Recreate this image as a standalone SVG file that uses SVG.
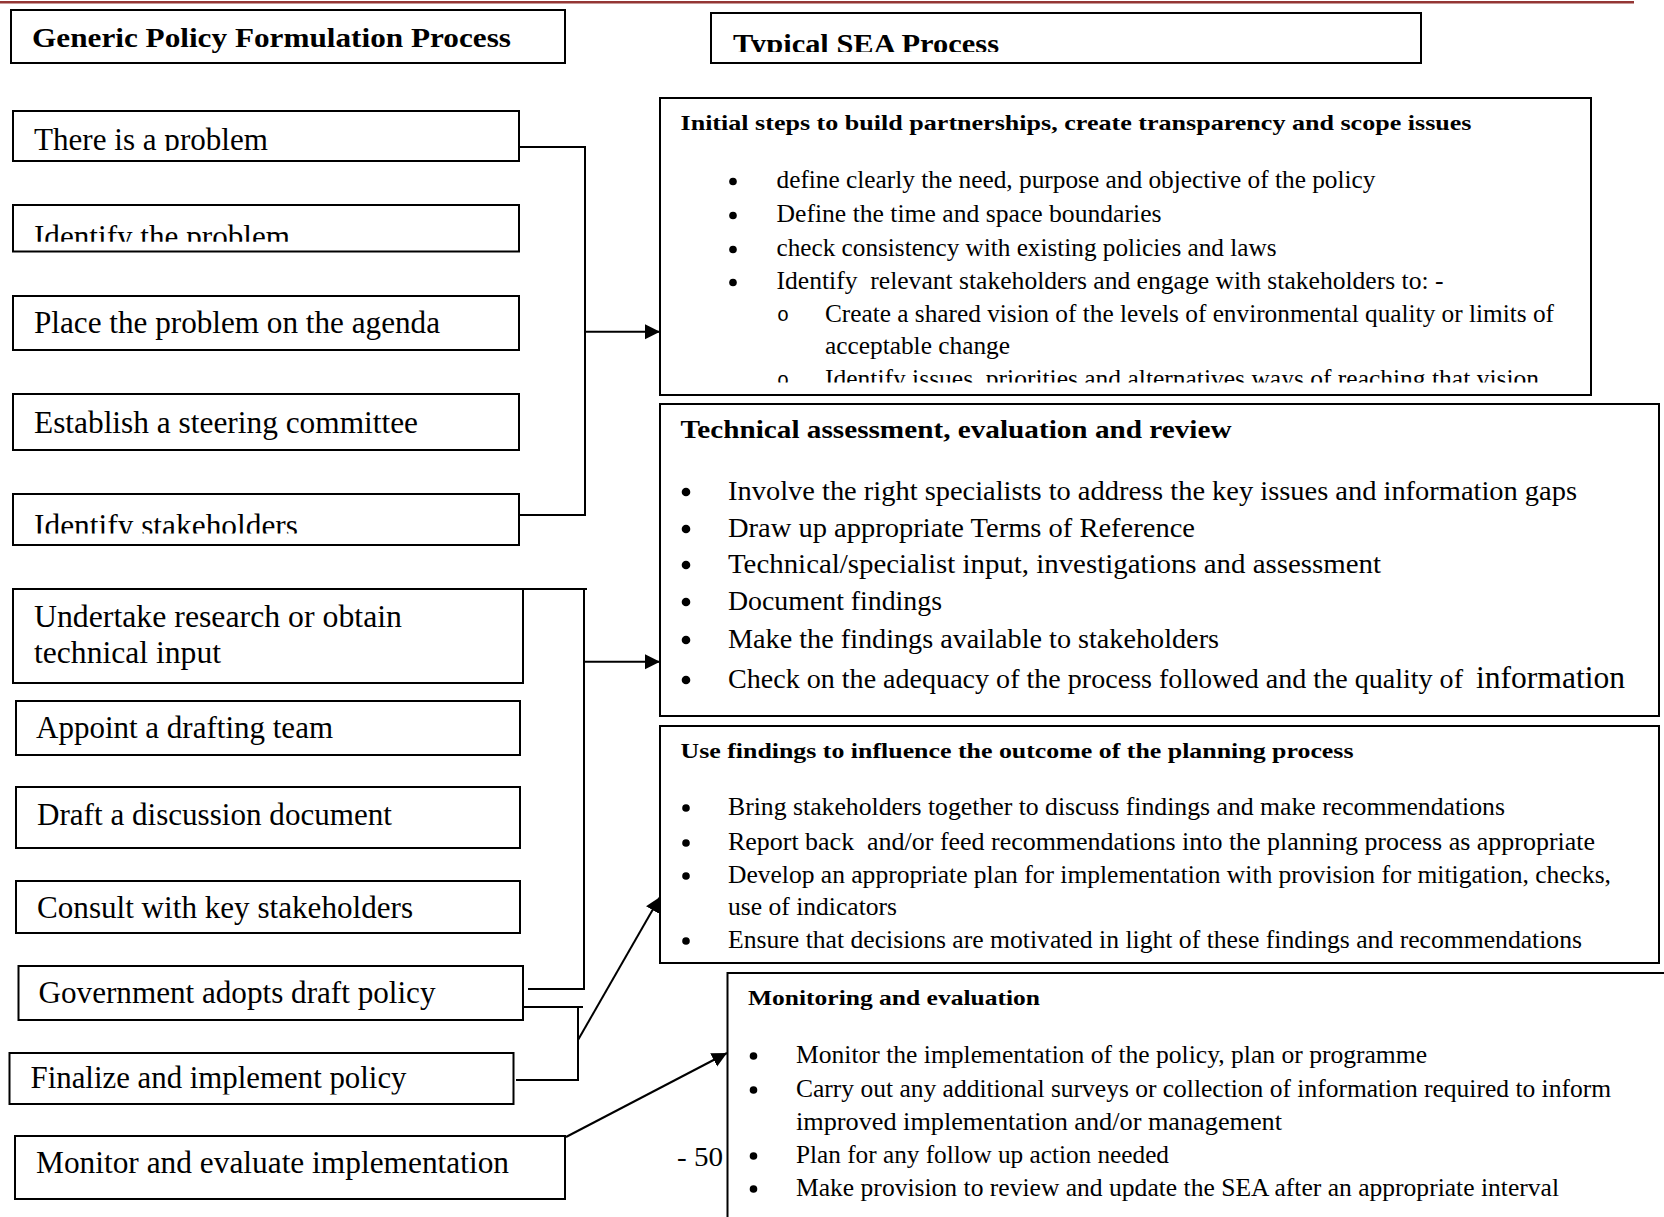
<svg xmlns="http://www.w3.org/2000/svg" width="1664" height="1217" viewBox="0 0 1664 1217">
<style>
text{font-family:"Liberation Serif",serif;fill:#000;white-space:pre}
.box{fill:#fff;stroke:#000;stroke-width:2}
.ln{fill:none;stroke:#000;stroke-width:2}
.lt{font-size:31px}
.ttl{font-size:28px;font-weight:bold}
.h{font-size:22px;font-weight:bold}
.h2{font-size:26px;font-weight:bold}
.b{font-size:25.5px}
.b2{font-size:28px}
.sub{font-family:"Liberation Mono",monospace;font-size:20px}
</style>
<defs>
<marker id="ah" markerUnits="userSpaceOnUse" markerWidth="16" markerHeight="16" refX="15" refY="7.5" orient="auto"><path d="M0,0 L15,7.5 L0,15 z" fill="#000"/></marker>
<clipPath id="cT2"><rect x="0" y="0" width="1664" height="52"/></clipPath>
<clipPath id="c1"><rect x="0" y="100" width="600" height="51"/></clipPath>
<clipPath id="c2"><rect x="0" y="200" width="600" height="41.7"/></clipPath>
<clipPath id="c5"><rect x="0" y="490" width="600" height="43.5"/></clipPath>
<clipPath id="c11"><rect x="0" y="1050" width="600" height="44.5"/></clipPath>
<clipPath id="cS1"><rect x="660" y="360" width="1000" height="22.5"/></clipPath>
</defs>
<rect width="1664" height="1217" fill="#fff"/>
<rect x="0" y="1" width="1634" height="2.5" fill="#943634"/>

<g id="title-policy"><rect class="box" x="11" y="10" width="554" height="53"/><text class="ttl" x="32" y="47" textLength="479" lengthAdjust="spacingAndGlyphs">Generic Policy Formulation Process</text></g>
<g id="title-sea"><rect class="box" x="711" y="13" width="710" height="50"/><text class="ttl" x="733" y="53" textLength="266" lengthAdjust="spacingAndGlyphs" clip-path="url(#cT2)">Typical SEA Process</text></g>

<g id="p1"><rect class="box" x="13" y="111" width="506" height="50"/><text class="lt" x="34" y="150" textLength="234" lengthAdjust="spacingAndGlyphs" clip-path="url(#c1)">There is a problem</text></g>
<g id="p2"><rect class="box" x="13" y="205" width="506" height="46.5"/><text class="lt" x="34" y="247" textLength="256" lengthAdjust="spacingAndGlyphs" clip-path="url(#c2)">Identify the problem</text></g>
<g id="p3"><rect class="box" x="13" y="296" width="506" height="54"/><text class="lt" x="34" y="333" textLength="406" lengthAdjust="spacingAndGlyphs">Place the problem on the agenda</text></g>
<g id="p4"><rect class="box" x="13" y="394" width="506" height="56"/><text class="lt" x="34" y="432.5" textLength="384" lengthAdjust="spacingAndGlyphs">Establish a steering committee</text></g>
<g id="p5"><rect class="box" x="13" y="494" width="506" height="51"/><text class="lt" x="34" y="536" textLength="264" lengthAdjust="spacingAndGlyphs" clip-path="url(#c5)">Identify stakeholders</text></g>
<g id="p6"><rect class="box" x="13" y="589" width="510" height="94"/><text class="lt" x="34" y="626.5" textLength="368" lengthAdjust="spacingAndGlyphs">Undertake research or obtain</text><text class="lt" x="34" y="663" textLength="187" lengthAdjust="spacingAndGlyphs">technical input</text></g>
<g id="p7"><rect class="box" x="16" y="701" width="504" height="54"/><text class="lt" x="36" y="738" textLength="297" lengthAdjust="spacingAndGlyphs">Appoint a drafting team</text></g>
<g id="p8"><rect class="box" x="16" y="787" width="504" height="61"/><text class="lt" x="37" y="825" textLength="355" lengthAdjust="spacingAndGlyphs">Draft a discussion document</text></g>
<g id="p9"><rect class="box" x="16" y="881" width="504" height="52"/><text class="lt" x="37" y="918" textLength="376" lengthAdjust="spacingAndGlyphs">Consult with key stakeholders</text></g>
<g id="p10"><rect class="box" x="18.5" y="966" width="504.5" height="54"/><text class="lt" x="38.5" y="1003" textLength="397" lengthAdjust="spacingAndGlyphs">Government adopts draft policy</text></g>
<g id="p11"><rect class="box" x="9.5" y="1053" width="504" height="51"/><text class="lt" x="30.5" y="1088" textLength="376" lengthAdjust="spacingAndGlyphs" clip-path="url(#c11)">Finalize and implement policy</text></g>
<g id="p12"><rect class="box" x="15" y="1136" width="550" height="63"/><text class="lt" x="36" y="1173" textLength="473" lengthAdjust="spacingAndGlyphs">Monitor and evaluate implementation</text></g>

<g id="sea1"><rect class="box" x="660" y="98" width="931" height="297"/>
<text class="h" x="680.5" y="130" textLength="791" lengthAdjust="spacingAndGlyphs">Initial steps to build partnerships, create transparency and scope issues</text>
<g fill="#000"><circle cx="733" cy="181.5" r="3.8"/><circle cx="733" cy="215.5" r="3.8"/><circle cx="733" cy="249.5" r="3.8"/><circle cx="733" cy="282.5" r="3.8"/></g>
<text class="b" x="776.5" y="188" textLength="599" lengthAdjust="spacingAndGlyphs">define clearly the need, purpose and objective of the policy</text>
<text class="b" x="776.5" y="222" textLength="385" lengthAdjust="spacingAndGlyphs">Define the time and space boundaries</text>
<text class="b" x="776.5" y="256" textLength="500" lengthAdjust="spacingAndGlyphs">check consistency with existing policies and laws</text>
<text class="b" x="776.5" y="289" textLength="667" lengthAdjust="spacingAndGlyphs">Identify  relevant stakeholders and engage with stakeholders to: -</text>
<text class="sub" x="783" y="321" text-anchor="middle">o</text>
<text class="b" x="825" y="322" textLength="729" lengthAdjust="spacingAndGlyphs">Create a shared vision of the levels of environmental quality or limits of</text>
<text class="b" x="825" y="354" textLength="185" lengthAdjust="spacingAndGlyphs">acceptable change</text>
<g clip-path="url(#cS1)"><text class="sub" x="783" y="386" text-anchor="middle">o</text><text class="b" x="825" y="387" textLength="714" lengthAdjust="spacingAndGlyphs">Identify issues, priorities and alternatives ways of reaching that vision</text></g>
</g>

<g id="sea2"><rect class="box" x="660" y="404" width="999" height="312"/>
<text class="h2" x="680.5" y="438" textLength="551" lengthAdjust="spacingAndGlyphs">Technical assessment, evaluation and review</text>
<g fill="#000"><circle cx="686" cy="492" r="4.3"/><circle cx="686" cy="529" r="4.3"/><circle cx="686" cy="565" r="4.3"/><circle cx="686" cy="602" r="4.3"/><circle cx="686" cy="640" r="4.3"/><circle cx="686" cy="680" r="4.3"/></g>
<text class="b2" x="728" y="500" textLength="849" lengthAdjust="spacingAndGlyphs">Involve the right specialists to address the key issues and information gaps</text>
<text class="b2" x="728" y="537" textLength="467" lengthAdjust="spacingAndGlyphs">Draw up appropriate Terms of Reference</text>
<text class="b2" x="728" y="573" textLength="653" lengthAdjust="spacingAndGlyphs">Technical/specialist input, investigations and assessment</text>
<text class="b2" x="728" y="610" textLength="214" lengthAdjust="spacingAndGlyphs">Document findings</text>
<text class="b2" x="728" y="648" textLength="491" lengthAdjust="spacingAndGlyphs">Make the findings available to stakeholders</text>
<text class="b2" x="728" y="688" textLength="735" lengthAdjust="spacingAndGlyphs">Check on the adequacy of the process followed and the quality of</text>
<text x="1476" y="688" font-size="31" textLength="149" lengthAdjust="spacingAndGlyphs">information</text>
</g>

<g id="sea3"><rect class="box" x="660" y="726" width="999" height="237"/>
<text class="h" x="680.5" y="758" textLength="673" lengthAdjust="spacingAndGlyphs">Use findings to influence the outcome of the planning process</text>
<g fill="#000"><circle cx="686" cy="808" r="3.8"/><circle cx="686" cy="843" r="3.8"/><circle cx="686" cy="876" r="3.8"/><circle cx="686" cy="941" r="3.8"/></g>
<text class="b" x="728" y="815" textLength="777" lengthAdjust="spacingAndGlyphs">Bring stakeholders together to discuss findings and make recommendations</text>
<text class="b" x="728" y="850" textLength="867" lengthAdjust="spacingAndGlyphs">Report back  and/or feed recommendations into the planning process as appropriate</text>
<text class="b" x="728" y="883" textLength="883" lengthAdjust="spacingAndGlyphs">Develop an appropriate plan for implementation with provision for mitigation, checks,</text>
<text class="b" x="728" y="915" textLength="169" lengthAdjust="spacingAndGlyphs">use of indicators</text>
<text class="b" x="728" y="948" textLength="854" lengthAdjust="spacingAndGlyphs">Ensure that decisions are motivated in light of these findings and recommendations</text>
</g>

<g id="sea4"><path class="ln" d="M1670,973 H727.5 V1222" fill="#fff"/>
<text class="h" x="748" y="1005" textLength="292" lengthAdjust="spacingAndGlyphs">Monitoring and evaluation</text>
<g fill="#000"><circle cx="753.5" cy="1056" r="3.8"/><circle cx="753.5" cy="1090" r="3.8"/><circle cx="753.5" cy="1156" r="3.8"/><circle cx="753.5" cy="1189" r="3.8"/></g>
<text class="b" x="796" y="1063" textLength="631" lengthAdjust="spacingAndGlyphs">Monitor the implementation of the policy, plan or programme</text>
<text class="b" x="796" y="1097" textLength="815" lengthAdjust="spacingAndGlyphs">Carry out any additional surveys or collection of information required to inform</text>
<text class="b" x="796" y="1130" textLength="486" lengthAdjust="spacingAndGlyphs">improved implementation and/or management</text>
<text class="b" x="796" y="1163" textLength="373" lengthAdjust="spacingAndGlyphs">Plan for any follow up action needed</text>
<text class="b" x="796" y="1196" textLength="763" lengthAdjust="spacingAndGlyphs">Make provision to review and update the SEA after an appropriate interval</text>
</g>

<text id="page-number" x="677" y="1166" font-size="28" textLength="46" lengthAdjust="spacingAndGlyphs">- 50</text>

<g id="connectors">
<path class="ln" d="M519,147 H585 V515 H518"/>
<line class="ln" x1="585" y1="331.7" x2="660" y2="331.7" marker-end="url(#ah)"/>
<path class="ln" d="M523,589 H587"/>
<path class="ln" d="M584,589 V989 H528"/>
<line class="ln" x1="584" y1="661.7" x2="660" y2="661.7" marker-end="url(#ah)"/>
<path class="ln" d="M523,1007 H583"/>
<path class="ln" d="M578,1007 V1080 H516"/>
<line class="ln" x1="578" y1="1040" x2="660" y2="897" stroke-width="1.6" marker-end="url(#ah)"/>
<line class="ln" x1="566" y1="1137" x2="727" y2="1053" stroke-width="1.6" marker-end="url(#ah)"/>
</g>
</svg>
